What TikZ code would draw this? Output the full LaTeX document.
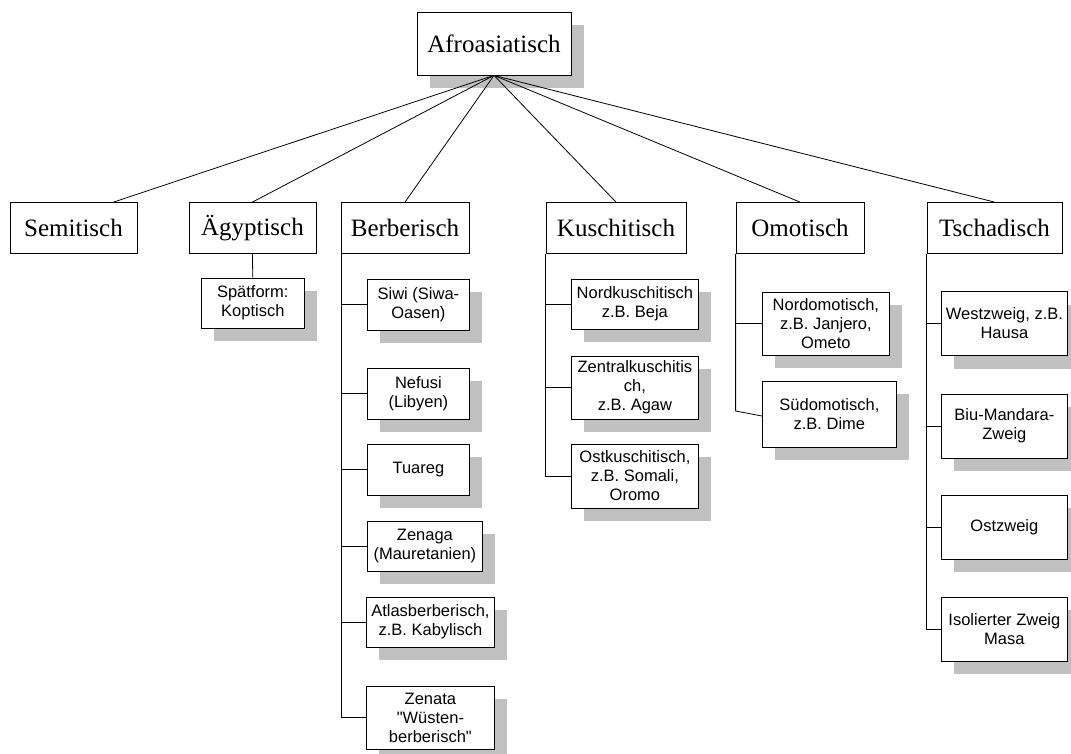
\documentclass[tikz,border=0pt]{standalone}
\usepackage{fontspec}
\setmainfont{Liberation Serif}
\setsansfont{Liberation Sans}[Ligatures=TeXOff]
\usetikzlibrary{shadows}
\definecolor{shadowgray}{RGB}{192,192,192}

\begin{document}
\begin{tikzpicture}[x=1pt, y=-1pt, line width=0.8pt,
        family/.style={draw, fill=white, inner sep=0pt, minimum height=51pt,
            font=\fontsize{25}{30}\selectfont},
        shadowed/.style={drop shadow={shadow xshift=13pt, shadow yshift=-13pt,
            fill=shadowgray, opacity=1}},
        language/.style={draw, fill=white, shadowed, inner sep=0pt, align=center,
            anchor=west, font=\sffamily\fontsize{16.5}{19}\selectfont}]
    \useasboundingbox (0,0) rectangle (1071,754);
    \node[family, shadowed, minimum width=154pt, minimum height=63pt] (afro) at (494,43.5) {Afroasiatisch};
    % Zweige
    \foreach \id/\t/\x/\w in {sem/Semitisch/73.5/127, aeg/Ägyptisch/252.4/127,
        ber/Berberisch/405/128, kus/Kuschitisch/616/140,
        omo/Omotisch/800/128, tsc/Tschadisch/994.5/135}
    {
        \node[family, minimum width=\w pt] (\id) at (\x,228) {\t};
    }
    \draw (afro.south) -- ([xshift=40pt]sem.north);
    \foreach \id in {aeg,ber,kus,omo,tsc}
        \draw (afro.south) -- (\id.north);
    % Ägyptisch
    \node[language, minimum width=103pt, minimum height=50pt] (kopt) at (200.9,303) {Spätform:\\Koptisch};
    \draw (aeg.south) -- (kopt.north);
    % Berberisch
    \foreach[count=\i] \t/\x/\y/\w/\h in {{Siwi (Siwa-\\Oasen)}/367/304.5/102/51,
        {Nefusi\\(Libyen)}/367/393.5/102/51, Tuareg/367/469.5/102/51,
        {Zenaga\\(Mauretanien)}/367/546/115/50,
        {Atlasberberisch,\\z.B. Kabylisch}/366/622/128/50,
        {Zenata\\"Wüsten-\\berberisch"}/366/717.5/128/63}
    {
        \node[language, minimum width=\w pt, minimum height=\h pt] (ber\i) at (\x,\y) {\t};
        \draw ([xshift=1pt]ber.south west) |- (ber\i.west);
    }
    % Kuschitisch
    \foreach[count=\i] \t/\y/\h in {{Nordkuschitisch\\z.B. Beja}/304/50,
        {Zentralkuschitis\\ch,\\z.B. Agaw}/387.5/63,
        {Ostkuschitisch,\\z.B. Somali,\\Oromo}/476/64}
    {
        \node[language, minimum width=127pt, minimum height=\h pt] (kus\i) at (571,\y) {\t};
        \draw (kus.south west) |- (kus\i.west);
    }
    % Omotisch
    \node[language, minimum width=127pt, minimum height=63pt] (omo1) at (762,323.5) {Nordomotisch,\\z.B. Janjero,\\Ometo};
    \node[language, minimum width=134pt, minimum height=66pt] (omo2) at (762,414) {Südomotisch,\\z.B. Dime};
    \draw (omo.south west) |- (omo1.west);
    \draw (omo.south west) -- ([yshift=3pt]omo.south west |- omo2.west) -- ([yshift=-2pt]omo2.west);
    % Tschadisch
    \foreach[count=\i] \t/\y in {{Westzweig, z.B.\\Hausa}/323.5,
        {Biu-Mandara-\\Zweig}/426, Ostzweig/527, {Isolierter Zweig\\Masa}/629}
    {
        \node[language, minimum width=126pt, minimum height=64pt] (tsc\i) at (941,\y) {\t};
        \draw (tsc.south west) |- (tsc\i.west);
    }
\end{tikzpicture}
\end{document}
